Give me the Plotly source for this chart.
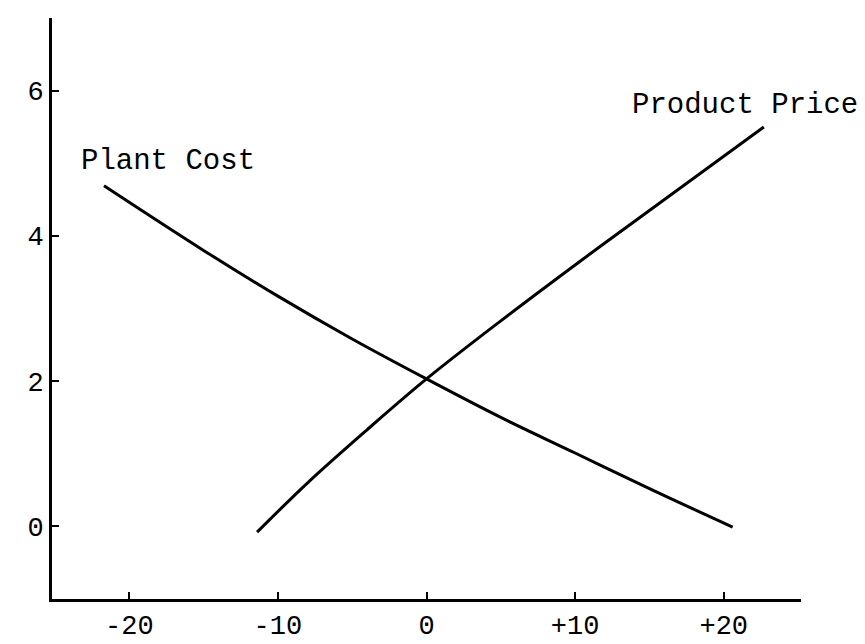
import plotly.graph_objects as go

# Data
plant_cost_x = [-21.7, -15.0, -10.0, -5.0, 0.0, 5.0, 10.0, 15.0, 20.6]
plant_cost_y = [4.69, 3.80, 3.17, 2.58, 2.03, 1.50, 1.01, 0.52, -0.01]

product_price_x = [-11.4, -8.0, -4.0, 0.0, 5.0, 10.0, 15.0, 22.7]
product_price_y = [-0.08, 0.60, 1.33, 2.03, 2.83, 3.60, 4.35, 5.50]

x_tick_vals = [-20, -10, 0, 10, 20]
x_tick_text = ["-20", "-10", "0", "+10", "+20"]
y_tick_vals = [0, 2, 4, 6]
y_tick_text = ["0", "2", "4", "6"]

FONT = "Liberation Mono, Courier New, monospace"

fig = go.Figure()
fig.add_trace(go.Scatter(x=plant_cost_x, y=plant_cost_y, mode="lines",
                         line=dict(color="black", width=3, shape="spline"),
                         name="Plant Cost", showlegend=False))
fig.add_trace(go.Scatter(x=product_price_x, y=product_price_y, mode="lines",
                         line=dict(color="black", width=3, shape="spline"),
                         name="Product Price", showlegend=False))

fig.add_annotation(x=-17.4, y=5.02, text="Plant Cost", showarrow=False,
                   font=dict(family=FONT, size=29, color="black"))
fig.add_annotation(x=21.4, y=5.79, text="Product Price", showarrow=False,
                   font=dict(family=FONT, size=29, color="black"))

fig.update_xaxes(range=[-25.2, 25.2], tickvals=x_tick_vals, ticktext=x_tick_text,
                 showline=True, linecolor="black", linewidth=3, mirror=False,
                 ticks="inside", ticklen=7, tickwidth=2, tickcolor="black",
                 showgrid=False, zeroline=False,
                 tickfont=dict(family=FONT, size=27, color="black"))
fig.update_yaxes(range=[-1.0, 7.0], tickvals=y_tick_vals, ticktext=y_tick_text,
                 showline=True, linecolor="black", linewidth=3, mirror=False,
                 ticks="inside", ticklen=7, tickwidth=2, tickcolor="black",
                 showgrid=False, zeroline=False,
                 tickfont=dict(family=FONT, size=27, color="black"))

fig.update_layout(width=865, height=644, plot_bgcolor="white", paper_bgcolor="white",
                  margin=dict(l=44, r=72, t=10, b=40), showlegend=False)

fig.write_html("out.html")
